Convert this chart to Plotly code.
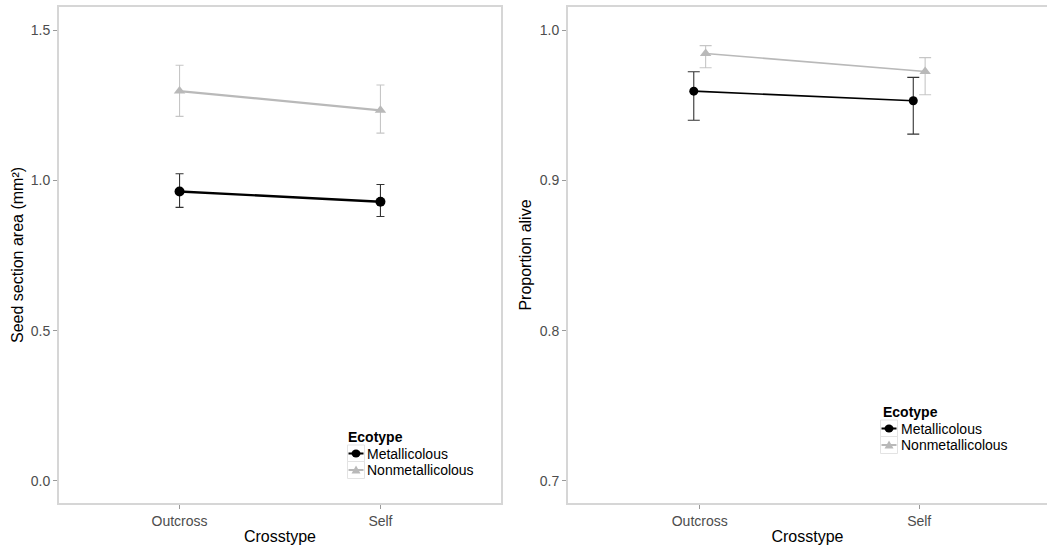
import plotly.graph_objects as go

# ---------------- data ----------------
crosstypes = ["Outcross", "Self"]
ecotypes = ["Metallicolous", "Nonmetallicolous"]

# Left panel: seed section area (mm^2)
seed_met = [0.963, 0.929]
seed_met_lo = [0.910, 0.880]
seed_met_hi = [1.022, 0.986]
seed_non = [1.297, 1.233]
seed_non_lo = [1.213, 1.157]
seed_non_hi = [1.383, 1.317]

# Right panel: proportion alive
alive_met = [0.9593, 0.9529]
alive_met_lo = [0.9400, 0.9307]
alive_met_hi = [0.9722, 0.9685]
alive_non = [0.9844, 0.9724]
alive_non_lo = [0.9749, 0.9569]
alive_non_hi = [0.9896, 0.9816]

left_ticks = [0.0, 0.5, 1.0, 1.5]
right_ticks = [0.7, 0.8, 0.9, 1.0]

# ---------------- layout geometry ----------------
FW, FH = 1047, 549
ML, MR, MT, MB = 59, 0, 7, 46
PW = FW - ML - MR
PH = FH - MT - MB


def px(xp):
    return (xp - ML) / PW


def py(yp):
    return (FH - MB - yp) / PH


BLACK = "#000000"
GREY = "#b9b9b9"
ERR_BLACK = "#333333"
ERR_GREY = "#c6c6c6"
BORDER = "#d6d6d6"
TICKC = "#9a9a9a"
TXT = "#4d4d4d"
FONT = "Liberation Sans, Arial, sans-serif"

xpos = [1, 2]
dodge_right = 0.027


def series(x, y, lo, hi, color, ecolor, symbol, lw, capw, xa, ya, size):
    return go.Scatter(
        x=x, y=y, mode="lines+markers",
        line=dict(color=color, width=lw),
        marker=dict(symbol=symbol, size=size, color=color),
        error_y=dict(type="data", symmetric=False,
                     array=[h - v for h, v in zip(hi, y)],
                     arrayminus=[v - l for v, l in zip(y, lo)],
                     color=ecolor, thickness=1.1, width=capw),
        xaxis=xa, yaxis=ya, showlegend=False, hoverinfo="skip",
    )


fig = go.Figure()
# left panel
fig.add_trace(series(xpos, seed_non, seed_non_lo, seed_non_hi, GREY, ERR_GREY,
                     "triangle-up", 2.2, 4, "x", "y", 10))
fig.add_trace(series(xpos, seed_met, seed_met_lo, seed_met_hi, BLACK, ERR_BLACK,
                     "circle", 2.4, 4, "x", "y", 10))
# right panel (dodged)
fig.add_trace(series([p + dodge_right for p in xpos], alive_non, alive_non_lo, alive_non_hi,
                     GREY, ERR_GREY, "triangle-up", 1.6, 6, "x2", "y2", 10))
fig.add_trace(series([p - dodge_right for p in xpos], alive_met, alive_met_lo, alive_met_hi,
                     BLACK, ERR_BLACK, "circle", 1.6, 6, "x2", "y2", 9))

axis_common = dict(showgrid=False, zeroline=False, showline=True, linecolor=BORDER,
                   linewidth=2, ticks="outside", ticklen=4, tickwidth=1, tickcolor=TICKC,
                   tickfont=dict(size=14, color=TXT, family=FONT))

left_right_px = 501
right_left_px = 568
right_unit = 219.5

fig.update_layout(
    width=FW, height=FH,
    margin=dict(l=ML, r=MR, t=MT, b=MB),
    paper_bgcolor="white", plot_bgcolor="white",
    font=dict(family=FONT, color="black"),
    xaxis=dict(domain=[0, px(left_right_px)], range=[0.4, 2.6], mirror=True,
               tickvals=xpos, ticktext=crosstypes, anchor="y",
               title=dict(text="Crosstype", font=dict(size=16, color="black"), standoff=3),
               **axis_common),
    yaxis=dict(domain=[0, 1], range=[-0.0733, 1.5767], mirror=True, anchor="x",
               tickvals=left_ticks, tickformat=".1f",
               title=dict(text="Seed section area (mm²)", font=dict(size=16, color="black"),
                          standoff=3),
               **axis_common),
    xaxis2=dict(domain=[px(right_left_px), 1],
                range=[0.4, 0.4 + (FW - right_left_px) / right_unit], mirror=True,
                tickvals=xpos, ticktext=crosstypes, anchor="y2",
                title=dict(text="Crosstype", font=dict(size=16, color="black"), standoff=3),
                **axis_common),
    yaxis2=dict(domain=[0, 1], range=[0.6853, 1.0153], mirror=False, anchor="x2",
                tickvals=right_ticks, tickformat=".1f",
                title=dict(text="Proportion alive", font=dict(size=16, color="black"),
                           standoff=4),
                **axis_common),
)

# ---------------- manual legends (ggplot-style keys) ----------------
def add_legend(title_x, title_y, key_x, text_x, row_ys):
    fig.add_annotation(xref="paper", yref="paper", x=px(title_x), y=py(title_y),
                       xanchor="left", yanchor="middle", showarrow=False,
                       text="<b>Ecotype</b>", font=dict(size=14, color="black", family=FONT))
    for i, (name, ry) in enumerate(zip(ecotypes, row_ys)):
        fig.add_shape(type="rect", xref="paper", yref="paper",
                      xsizemode="pixel", ysizemode="pixel",
                      xanchor=px(key_x), yanchor=py(ry),
                      x0=-8.5, x1=8.5, y0=-8.5, y1=8.5,
                      line=dict(color="#e3e3e3", width=1), fillcolor="white", layer="above")
        color = BLACK if i == 0 else GREY
        fig.add_shape(type="line", xref="paper", yref="paper",
                      xsizemode="pixel", ysizemode="pixel",
                      xanchor=px(key_x), yanchor=py(ry),
                      x0=-7.5, x1=7.5, y0=0, y1=0,
                      line=dict(color=color, width=2), layer="above")
        if i == 0:
            fig.add_shape(type="circle", xref="paper", yref="paper",
                          xsizemode="pixel", ysizemode="pixel",
                          xanchor=px(key_x), yanchor=py(ry),
                          x0=-4.5, x1=4.5, y0=-4, y1=4,
                          line=dict(color=color, width=0), fillcolor=color, layer="above")
        else:
            fig.add_shape(type="path", xref="paper", yref="paper",
                          xsizemode="pixel", ysizemode="pixel",
                          xanchor=px(key_x), yanchor=py(ry),
                          path="M-4.5,-3.5 L4.5,-3.5 L0,4.5 Z",
                          line=dict(color=color, width=0), fillcolor=color, layer="above")
        fig.add_annotation(xref="paper", yref="paper", x=px(text_x), y=py(ry),
                           xanchor="left", yanchor="middle", showarrow=False,
                           text=name, font=dict(size=14, color="black", family=FONT))


add_legend(346, 437, 356, 365, [453.5, 470])
add_legend(881, 412, 889, 899, [428.5, 445])

fig.write_html("out.html", config={"displayModeBar": False},
               post_script="document.body.style.margin='0';")
